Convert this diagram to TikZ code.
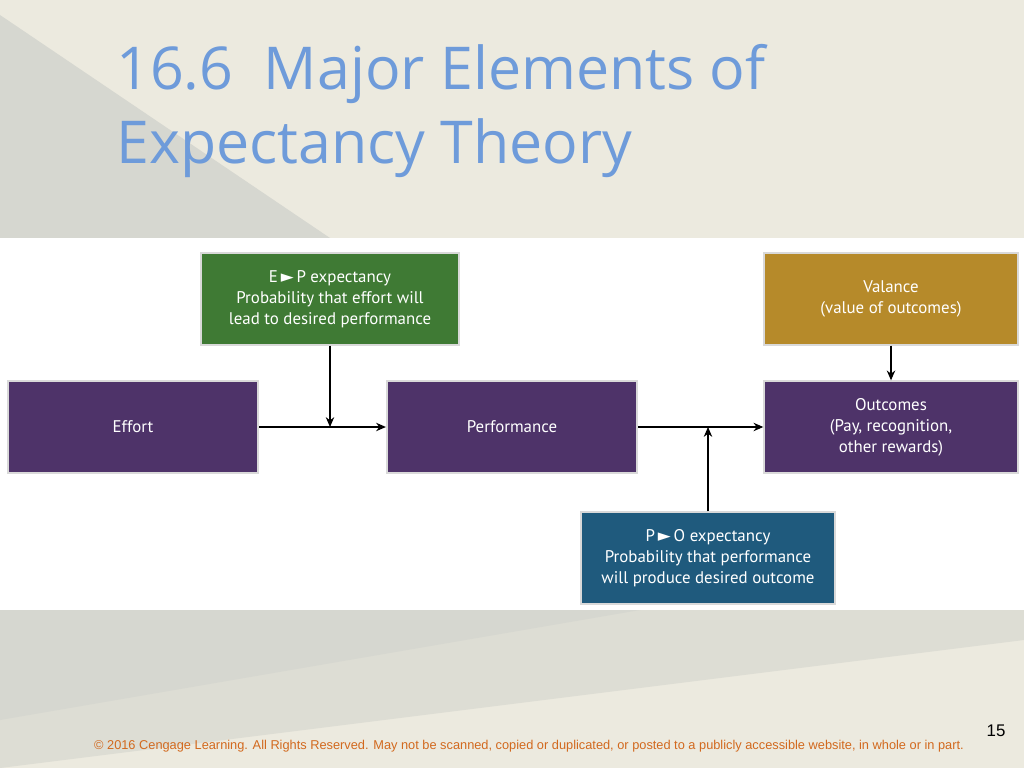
\documentclass[tikz,border=0pt]{standalone}
\usepackage{fontspec}
\setmainfont{PT Sans}
\newfontfamily\titlefont{Open Sans}
\newfontfamily\footfont{Liberation Sans}
\newfontfamily\symfont{DejaVu Sans}
\usetikzlibrary{arrows.meta,positioning}
\definecolor{SlideBeige}{HTML}{ECEADF}
\definecolor{SlideGrey}{HTML}{D6D7D0}
\definecolor{TitleBlue}{HTML}{6E9BDA}
\definecolor{BoxPurple}{HTML}{4E3369}
\definecolor{BoxGreen}{HTML}{3F7A34}
\definecolor{BoxGold}{HTML}{B68A2A}
\definecolor{BoxTeal}{HTML}{1F5A7D}
\definecolor{FootOrange}{HTML}{D2691E}
\newcommand{\tri}{{\symfont ►}}
\tikzset{
  stage/.style={draw=white!85!black, line width=1.5pt, fill=BoxPurple, text=white,
    minimum width=6.25cm, minimum height=2.28cm, align=center,
    font=\fontsize{12}{15}\selectfont, inner sep=0pt},
  flow/.style={-{Stealth[length=7pt,width=6pt]}, line width=0.8pt}
}
\begin{document}
\begin{tikzpicture}[x=0.025cm, y=-0.025cm]
  \useasboundingbox (0,0) rectangle (1024,768);
  % background
  \fill[SlideBeige] (0,0) rectangle (1024,768);
  \fill[SlideGrey] (0,15) -- (330,238) -- (0,238) -- cycle;
  \fill[SlideGrey!70!SlideBeige] (0,610) -- (1024,610) -- (1024,640) -- (0,768) -- cycle;
  \fill[SlideGrey] (0,610) -- (640,610) -- (0,720) -- cycle;
  \fill[white] (0,238) rectangle (1024,610);
  % title
  \node[anchor=north west, align=left, text=TitleBlue, inner sep=0pt,
    font=\titlefont\fontsize{42}{53}\selectfont] (title) at (116,44)
    {16.6\ \ Major Elements of\\Expectancy Theory};
  % boxes
  \node[stage, fill=BoxGreen, minimum width=6.45cm] (ep) at (330,299)
    {E\,\tri\,P expectancy\\Probability that effort will\\lead to desired performance};
  \node[stage, fill=BoxGold, minimum width=6.33cm] (val) at (891,299)
    {Valance\\(value of outcomes)};
  \node[stage] (effort) at (133,427) {Effort};
  \node[stage] (perf) at (512,427) {Performance};
  \node[stage, minimum width=6.33cm] (out) at (891,427)
    {Outcomes\\(Pay, recognition,\\other rewards)};
  \node[stage, fill=BoxTeal, minimum width=6.33cm] (po) at (708,558)
    {P\,\tri\,O expectancy\\Probability that performance\\will produce desired outcome};
  % connectors
  \coordinate (epj) at (ep.south |- effort.east);
  \coordinate (poj) at (po.north |- perf.east);
  \draw[flow] (effort) -- (perf);
  \draw[flow] (perf) -- (out);
  \draw[flow] (ep) -- (epj);
  \draw[flow] (po) -- (poj);
  \draw[flow] (val) -- (out);
  % footer
  \node[text=FootOrange, font=\footfont\fontsize{9.1}{11}\selectfont] (foot) at (529,746)
    {\textcopyright\ 2016 Cengage Learning. All Rights Reserved. May not be scanned, copied or duplicated, or posted to a publicly accessible website, in whole or in part.};
  \node[font=\footfont\fontsize{12}{14}\selectfont] (page) at (996,731) {15};
\end{tikzpicture}
\end{document}
